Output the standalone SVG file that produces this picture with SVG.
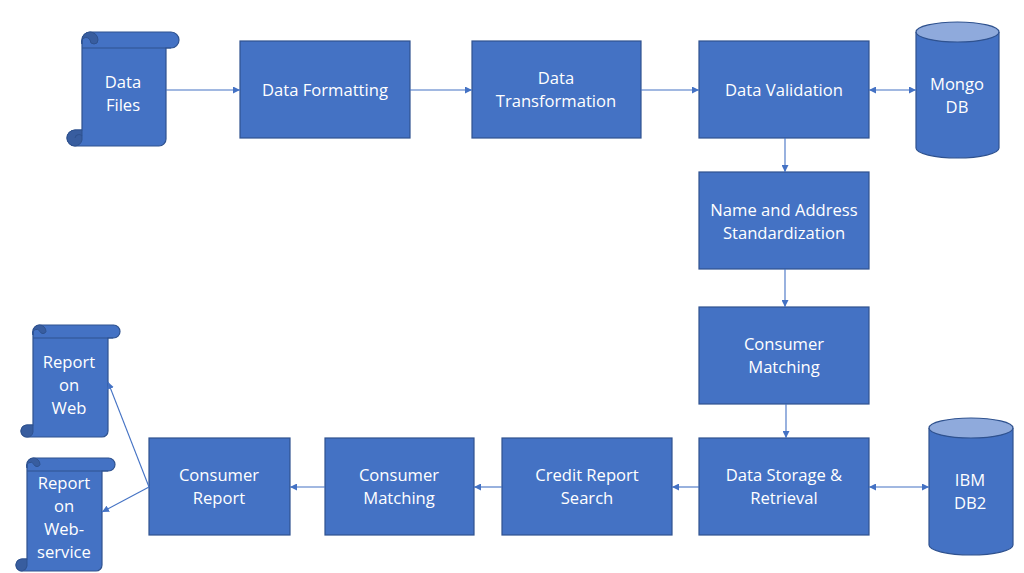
<svg xmlns="http://www.w3.org/2000/svg" width="1024" height="573" viewBox="0 0 1024 573">
<style>
.box{fill:#4472c4;stroke:#2f528f;stroke-width:1.2}
.top{fill:#8faadc;stroke:#2f528f;stroke-width:1.2}
.dark{fill:#385d9f;stroke:#2f528f;stroke-width:1}
.t{font-family:"Open Sans","Liberation Sans",sans-serif;font-size:16.6px;fill:#ffffff;text-anchor:middle}
.c{stroke:#4472c4;stroke-width:1.1;fill:none}
</style>
<defs>
<marker id="ah" viewBox="0 0 10 10" refX="10" refY="5" markerWidth="7" markerHeight="7" orient="auto-start-reverse" markerUnits="userSpaceOnUse">
<path d="M0,0 L10,5 L0,10 Z" fill="#4472c4"/>
</marker>
</defs>
<rect width="1024" height="573" fill="#ffffff"/>

<g id="data-files">
<path class="box" d="M90 32 H171 A8 8 0 0 1 171 48 H166 V139 A7 7 0 0 1 159 146 H75 A8 8 0 0 1 75 130 H82 V40 A8 8 0 0 1 90 32 Z"/>
<path class="dark" d="M82 40 A8 8 0 0 1 98 40 A4 4 0 0 1 90 40 A4 4 0 0 0 82 44 Z"/>
<path class="dark" d="M75 130 A8 8 0 0 0 75 146 A8 8 0 0 0 82 140 V130 Z"/>
<path class="c" style="stroke:#2f528f" d="M82 48 H171 M75 138 A4 4 0 0 1 82 136"/>
<text class="t" x="123" y="88">Data</text>
<text class="t" x="123" y="111">Files</text>
</g>

<g id="data-formatting">
<rect class="box" x="240" y="41" width="170" height="97"/>
<text class="t" x="325" y="96">Data Formatting</text>
</g>

<g id="data-transformation">
<rect class="box" x="472" y="41" width="169" height="97"/>
<text class="t" x="556" y="84">Data</text>
<text class="t" x="556" y="107">Transformation</text>
</g>

<g id="data-validation">
<rect class="box" x="699" y="41" width="170" height="97"/>
<text class="t" x="784" y="96">Data Validation</text>
</g>

<g id="mongo-db">
<path class="box" d="M916 32 V148 A41.5 10 0 0 0 999 148 V32"/>
<ellipse class="top" cx="957.5" cy="32" rx="41.5" ry="10"/>
<text class="t" x="957" y="90">Mongo</text>
<text class="t" x="957" y="113">DB</text>
</g>

<g id="name-address">
<rect class="box" x="699" y="172" width="170" height="97"/>
<text class="t" x="784" y="216">Name and Address</text>
<text class="t" x="784" y="239">Standardization</text>
</g>

<g id="consumer-matching-1">
<rect class="box" x="699" y="307" width="170" height="97"/>
<text class="t" x="784" y="350">Consumer</text>
<text class="t" x="784" y="373">Matching</text>
</g>

<g id="data-storage">
<rect class="box" x="699" y="438" width="170" height="97"/>
<text class="t" x="784" y="481">Data Storage &amp;</text>
<text class="t" x="784" y="504">Retrieval</text>
</g>

<g id="ibm-db2">
<path class="box" d="M929 428 V545 A42 10 0 0 0 1013 545 V428"/>
<ellipse class="top" cx="971" cy="428" rx="42" ry="10"/>
<text class="t" x="970" y="486">IBM</text>
<text class="t" x="970" y="509">DB2</text>
</g>

<g id="credit-report-search">
<rect class="box" x="502" y="438" width="170" height="97"/>
<text class="t" x="587" y="481">Credit Report</text>
<text class="t" x="587" y="504">Search</text>
</g>

<g id="consumer-matching-2">
<rect class="box" x="325" y="438" width="149" height="97"/>
<text class="t" x="399" y="481">Consumer</text>
<text class="t" x="399" y="504">Matching</text>
</g>

<g id="consumer-report">
<rect class="box" x="149" y="438" width="141" height="97"/>
<text class="t" x="219" y="481">Consumer</text>
<text class="t" x="219" y="504">Report</text>
</g>

<g id="report-web">
<path class="box" d="M40 325 H113.5 A6.5 6.5 0 0 1 113.5 338 H108 V431 A6 6 0 0 1 102 437 H27 A6 6 0 0 1 27 425 H33 V331.5 A6.5 6.5 0 0 1 40 325 Z"/>
<path class="dark" d="M33 331.5 A6.5 6.5 0 0 1 46 331.5 A3.2 3.2 0 0 1 40 331.5 A3.2 3.2 0 0 0 33 335 Z"/>
<path class="dark" d="M27 425 A6 6 0 0 0 27 437 A6 6 0 0 0 33 432 V425 Z"/>
<path class="c" style="stroke:#2f528f" d="M33 338 H113"/>
<text class="t" x="69" y="368">Report</text>
<text class="t" x="69" y="391">on</text>
<text class="t" x="69" y="414">Web</text>
</g>

<g id="report-webservice">
<path class="box" d="M34 458 H108.5 A6.5 6.5 0 0 1 108.5 471 H102 V565 A6 6 0 0 1 96 571 H22 A6 6 0 0 1 22 559 H27 V464.5 A6.5 6.5 0 0 1 34 458 Z"/>
<path class="dark" d="M27 464.5 A6.5 6.5 0 0 1 40 464.5 A3.2 3.2 0 0 1 34 464.5 A3.2 3.2 0 0 0 27 468 Z"/>
<path class="dark" d="M22 559 A6 6 0 0 0 22 571 A6 6 0 0 0 27 566 V559 Z"/>
<path class="c" style="stroke:#2f528f" d="M27 471 H108"/>
<text class="t" x="64" y="489">Report</text>
<text class="t" x="64" y="512">on</text>
<text class="t" x="64" y="535">Web-</text>
<text class="t" x="64" y="558">service</text>
</g>

<g id="connectors">
<path class="c" d="M166 90 H240" marker-end="url(#ah)"/>
<path class="c" d="M410 90 H472" marker-end="url(#ah)"/>
<path class="c" d="M641 90 H699" marker-end="url(#ah)"/>
<path class="c" d="M869 90 H916" marker-start="url(#ah)" marker-end="url(#ah)"/>
<path class="c" d="M785 138 V172" marker-end="url(#ah)"/>
<path class="c" d="M785 269 V307" marker-end="url(#ah)"/>
<path class="c" d="M786 404 V438" marker-end="url(#ah)"/>
<path class="c" d="M869 487 H929" marker-start="url(#ah)" marker-end="url(#ah)"/>
<path class="c" d="M699 487 H672" marker-end="url(#ah)"/>
<path class="c" d="M502 487 H474" marker-end="url(#ah)"/>
<path class="c" d="M325 487 H290" marker-end="url(#ah)"/>
<path class="c" d="M149 487 L108 382" marker-end="url(#ah)"/>
<path class="c" d="M149 487 L102 512" marker-end="url(#ah)"/>
</g>
</svg>
